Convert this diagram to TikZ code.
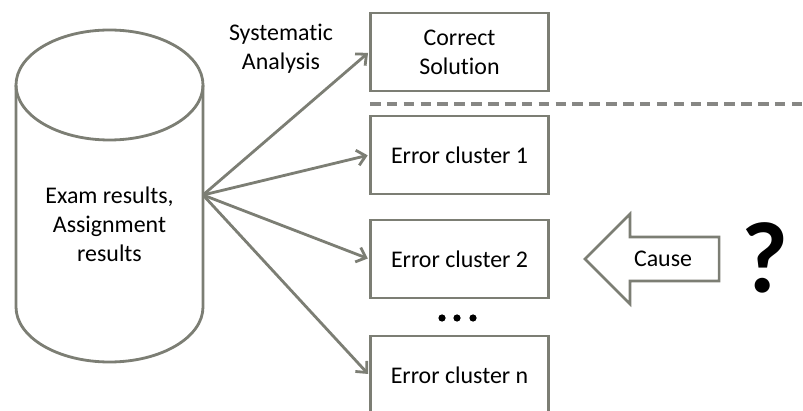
\documentclass[tikz,border=0pt]{standalone}
\usepackage{fontspec}
\setmainfont{Carlito}[Ligatures=NoCommon]
\usetikzlibrary{positioning, arrows.meta}

\definecolor{edgegray}{RGB}{124,126,116}
\definecolor{dashgray}{RGB}{135,135,132}

\tikzset{
	line/.style={draw=edgegray, line width=2pt},
	cluster/.style={line, rectangle, minimum width=4.45cm, minimum height=1.95cm, inner sep=2pt, align=center, font=\fontsize{17}{20.5}\selectfont},
	flow/.style={line, -{Straight Barb[length=6pt, width=11pt, line width=2pt]}, shorten >=1pt},
	label/.style={align=center, font=\fontsize{17}{20.5}\selectfont}
}

\begin{document}
\begin{tikzpicture}
		\useasboundingbox (0,0) rectangle (20.075,10.25);
		% data store
		\draw[line] (0.4,8.125) -- (0.4,2.575) arc[start angle=180, end angle=360, x radius=2.3375, y radius=1.375] -- (5.075,8.125);
		\draw[line] (2.7375,8.125) ellipse[x radius=2.3375, y radius=1.375];
		\node[label] (db) at (2.7375,4.65) {Exam results,\\Assignment\\results};
		\coordinate (dbout) at (5.075,5.375);
		\node[label] (sys) at (7.025,9.025) {Systematic\\Analysis};

		% outcome boxes
		\node[cluster] (sol) at (11.4875,8.95) {Correct\\Solution};
		\node[cluster] (err1) at (11.4875,6.375) {Error cluster 1};
		\node[cluster] (err2) at (11.4875,3.775) {Error cluster 2};
		\node[cluster] (errn) at (11.4875,0.875) {Error cluster n};
		\foreach \b in {sol, err1, err2, errn}{
			\draw[flow] (dbout) -- (\b.west);
		}
		\foreach \x in {11.05, 11.425, 11.825}{
			\fill (\x,2.3) circle[radius=0.09];
		}
		\coordinate (sepl) at (9.25,7.65);
		\coordinate (sepr) at (20.075,7.65);
		\draw[draw=dashgray, line width=2.2pt, dash pattern=on 7.5pt off 4.5pt] (sepl) -- (sepr);

		% cause arrow and question
		\draw[line, line width=1.8pt] (14.625,3.775) -- (15.75,4.9) -- (15.75,4.325) -- (17.975,4.325) -- (17.975,3.225) -- (15.75,3.225) -- (15.75,2.65) -- cycle;
		\node[label] (cause) at (16.575,3.775) {Cause};
		\node[font=\fontsize{72}{72}\bfseries, inner sep=0pt] (q) at (19.125,3.8) {?};
	\end{tikzpicture}
\end{document}
